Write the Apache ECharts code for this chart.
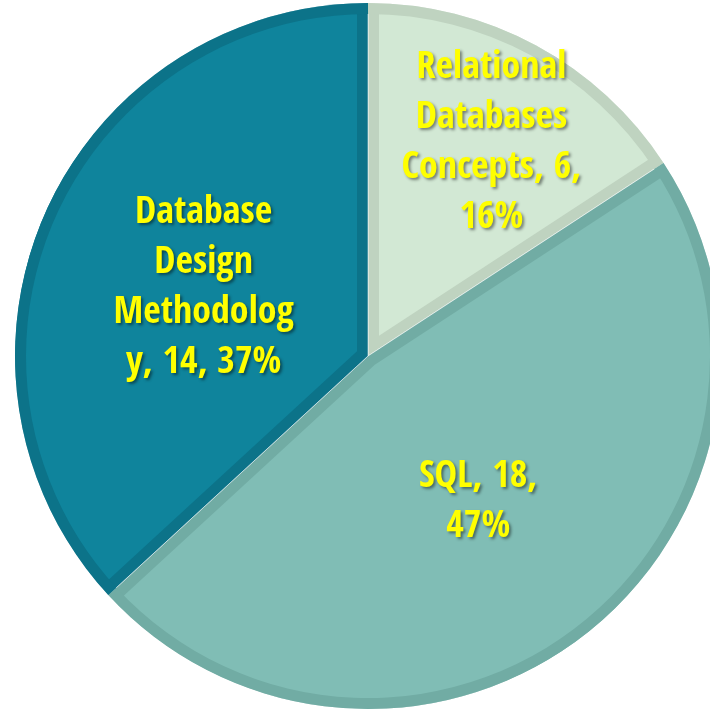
<!DOCTYPE html>
<html>
<head>
<meta charset="utf-8">
<script src="https://cdn.jsdelivr.net/npm/echarts@6/dist/echarts.min.js"></script>
<style>html,body{margin:0;padding:0;background:#fff}#c{width:710px;height:710px}</style>
</head>
<body>
<div id="c"></div>
<script>
// ---- data ----
var categories = ['Relational Databases Concepts', 'SQL', 'Database Design Methodology'];
var values = [6, 18, 14];
// wrapped label text as shown in the chart (name, value, percent)
var labelWrapped = [
  'Relational\nDatabases\nConcepts, {v},\n{p}%',
  'SQL, {v},\n{p}%',
  'Database\nDesign\nMethodolog\ny, {v}, {p}%'
];
var fillColors = ['#d2e8d4', '#80bdb5', '#0f849c'];
var bandColors = ['#bfd3c0', '#71aca4', '#0c7389'];

// ---- layout ----
var CX = 368, CY = 356, R = 353, W = 11;

var chart = echarts.init(document.getElementById('c'), null, {renderer: 'canvas'});
var total = values.reduce(function (a, b) { return a + b; }, 0);

function dataWith(colors) {
  return categories.map(function (n, i) {
    return {name: n, value: values[i], itemStyle: {color: colors[i]}};
  });
}

var series = [];
// base: dark band color full pie
series.push({
  type: 'pie', silent: true, startAngle: 90, clockwise: true,
  center: [CX, CY], radius: [0, R], z: 1,
  label: {show: false}, labelLine: {show: false}, emphasis: {disabled: true},
  itemStyle: {borderColor: 'rgba(255,255,255,0.5)', borderWidth: 1},
  data: dataWith(bandColors)
});
// inset light wedges: one series per slice, center shifted along bisector
var acc = 0;
values.forEach(function (v, i) {
  var theta = v / total * 2 * Math.PI;
  var beta = acc + theta / 2; // from north, clockwise
  acc += theta;
  var d = W / Math.sin(Math.min(theta / 2, Math.PI / 2));
  var px = CX + d * Math.sin(beta), py = CY - d * Math.cos(beta);
  var cols = categories.map(function (c, j) { return j === i ? fillColors[i] : 'rgba(0,0,0,0)'; });
  series.push({
    type: 'pie', silent: true, startAngle: 90, clockwise: true,
    center: [px, py], radius: [0, R - d], z: 2,
    label: {show: false}, labelLine: {show: false}, emphasis: {disabled: true},
    data: dataWith(cols)
  });
});
// outer band ring
series.push({
  type: 'pie', silent: true, startAngle: 90, clockwise: true,
  center: [CX, CY], radius: [R - W, R], z: 3,
  label: {show: false}, labelLine: {show: false}, emphasis: {disabled: true},
  data: dataWith(bandColors)
});
// label layer
series.push({
  type: 'pie', silent: true, startAngle: 90, clockwise: true,
  center: [CX, CY], radius: [0, R], z: 4,
  avoidLabelOverlap: false,
  emphasis: {disabled: true},
  itemStyle: {color: 'rgba(0,0,0,0)'},
  labelLine: {show: false},
  label: {
    show: true, position: 'inside',
    color: '#ffff00',
    fontFamily: '"Open Sans Condensed", "Roboto Condensed", "DejaVu Sans Condensed", sans-serif',
    fontWeight: 'bold', fontSize: 38, lineHeight: 50, align: 'center',
    textShadowColor: 'rgba(0,0,0,0.45)', textShadowBlur: 3,
    textShadowOffsetX: 2, textShadowOffsetY: 2,
    formatter: function (p) {
      return labelWrapped[p.dataIndex].replace('{v}', p.value).replace('{p}', Math.round(p.percent));
    }
  },
  labelLayout: function (p) {
    if (p.dataIndex === 0) return {dx: 38, dy: -55};
    return {dy: 4};
  },
  data: categories.map(function (n, i) { return {name: n, value: values[i]}; })
});

chart.setOption({animation: false, backgroundColor: '#ffffff', series: series});
</script>
</body>
</html>
